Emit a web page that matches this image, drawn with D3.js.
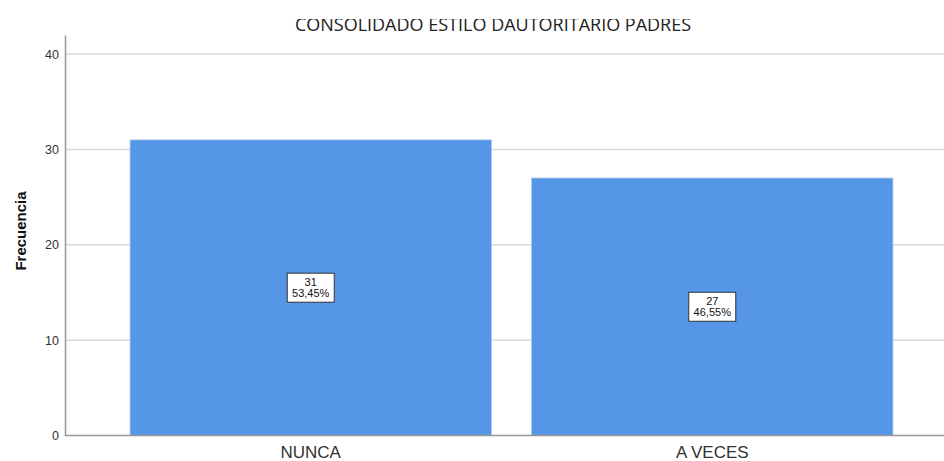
<!DOCTYPE html>
<meta charset="UTF-8">
<style>
    body { margin: 0; background: #fff; }
    .grid line { stroke: #d9d9d9; stroke-width: 1.5px; }
    .tick text { font-family: Arial, "Liberation Sans", sans-serif; fill: #333; }
</style>
<body>
<div id="chart"></div>
<script src="https://d3js.org/d3.v7.min.js"></script>
<script>

// data
var categories = ["NUNCA", "A VECES"];
var counts = [31, 27];
var percents = ["53,45%", "46,55%"];
var yTicks = [0, 10, 20, 30, 40];
var title = "CONSOLIDADO ESTILO DAUTORITARIO PADRES";

var width = 944, height = 461;

var svg = d3.select("#chart").append("svg")
    .attr("width", width)
    .attr("height", height);

// scales
var x = d3.scaleBand()
    .domain(categories)
    .range([65, 958])
    .paddingInner(0.1)
    .paddingOuter(0.162);

var y = d3.scaleLinear()
    .domain([0, 42])
    .range([435.5, 35]);

// gridlines
svg.append("g")
    .attr("class", "grid")
    .selectAll("line")
    .data(yTicks.filter(function(d) { return d > 0; }))
    .enter().append("line")
    .attr("x1", 66).attr("x2", width)
    .attr("y1", function(d) { return y(d); })
    .attr("y2", function(d) { return y(d); });

// bars
svg.append("g")
    .selectAll("rect")
    .data(categories)
    .enter().append("rect")
    .attr("x", function(d) { return x(d); })
    .attr("y", function(d, i) { return y(counts[i]); })
    .attr("width", x.bandwidth())
    .attr("height", function(d, i) { return y(0) - y(counts[i]); })
    .attr("fill", "#5596e6")
    .attr("stroke", "#a9c9f2")
    .attr("stroke-width", 0.8);

// y axis
var yAxis = svg.append("g")
    .attr("transform", "translate(65,0)")
    .call(d3.axisLeft(y).tickValues(yTicks).tickSize(0).tickPadding(6));
yAxis.select(".domain").attr("stroke", "#999").attr("stroke-width", 1.5);
yAxis.selectAll("text").style("font-size", "12.5px");

// x axis
var xAxis = svg.append("g")
    .attr("transform", "translate(0," + y(0) + ")")
    .call(d3.axisBottom(x).tickSize(0).tickPadding(10));
xAxis.select(".domain").remove();
xAxis.selectAll("text").style("font-size", "17px").attr("fill", "#333");
svg.append("line")
    .attr("x1", 65).attr("x2", width)
    .attr("y1", y(0)).attr("y2", y(0))
    .attr("stroke", "#999").attr("stroke-width", 1.5);

// value labels
var labels = svg.append("g")
    .selectAll("g")
    .data(categories)
    .enter().append("g")
    .attr("transform", function(d, i) {
        return "translate(" + (x(d) + x.bandwidth() / 2) + "," + ((y(0) + y(counts[i])) / 2) + ")";
    });

labels.append("rect")
    .attr("x", -23.5).attr("y", -14.5)
    .attr("width", 47).attr("height", 29)
    .attr("fill", "#fff")
    .attr("stroke", "#333")
    .attr("stroke-width", 1);

labels.append("text")
    .attr("text-anchor", "middle")
    .attr("y", -2)
    .style("font-family", "Arial, sans-serif")
    .style("font-size", "11px")
    .attr("fill", "#111")
    .text(function(d, i) { return counts[i]; });

labels.append("text")
    .attr("text-anchor", "middle")
    .attr("y", 9)
    .style("font-family", "Arial, sans-serif")
    .style("font-size", "11px")
    .attr("fill", "#111")
    .text(function(d, i) { return percents[i]; });

// y axis title
svg.append("text")
    .attr("transform", "translate(26,231) rotate(-90)")
    .attr("text-anchor", "middle")
    .style("font-family", "Arial, sans-serif")
    .style("font-size", "15px")
    .style("font-weight", "bold")
    .attr("fill", "#111")
    .text("Frecuencia");

// chart title, clipped at the top as in the original
svg.append("clipPath")
    .attr("id", "titleclip")
    .append("rect")
    .attr("x", 0).attr("y", 19)
    .attr("width", width).attr("height", 30);

svg.append("text")
    .attr("clip-path", "url(#titleclip)")
    .attr("x", 493)
    .attr("y", 30.5)
    .attr("text-anchor", "middle")
    .style("font-family", "'Open Sans', sans-serif")
    .style("font-size", "18px")
    .attr("fill", "#222")
    .text(title);

</script>
</body>
